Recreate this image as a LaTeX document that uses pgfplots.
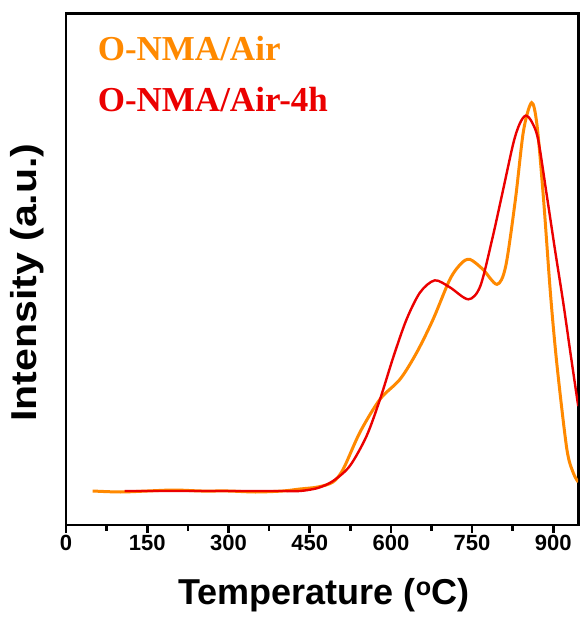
\documentclass[border=0pt]{standalone}
\usepackage{fontspec}
\setmainfont{Liberation Sans}
\newfontfamily\legfont{Liberation Serif}
\usepackage{graphicx}
\usepackage{pgfplots}
\pgfplotsset{compat=1.18}
\definecolor{cair}{RGB}{255,137,0}
\definecolor{cair4}{RGB}{235,0,0}
\begin{document}
\begin{tikzpicture}
\begin{axis}[
  scale only axis, width=512pt, height=511pt,
  xmin=0, xmax=946, ymin=0, ymax=512,
  xtick={0,150,...,900}, minor x tick num=1,
  ytick=\empty,
  tick align=outside, xtick pos=bottom,
  major tick length=8pt, minor tick length=6pt,
  every tick/.style={line width=2.5pt, black},
  axis line style={line width=2.8pt},
  tick label style={font=\fontsize{22}{24}\selectfont\bfseries},
  /pgf/number format/assume math mode=true,
  xticklabel style={yshift=1pt},
  label style={font=\fontsize{36}{38}\selectfont\bfseries},
  xlabel={Temperature (\textsuperscript{o}C)},
  ylabel={\scalebox{1.14}[1]{Intensity (a.u.)}},
  ylabel style={at={(axis description cs:-0.075,0.474)}, anchor=center},
  xlabel style={at={(axis description cs:0.504,-0.138)}, anchor=center},
  clip=true,
]
\addplot[cair, line width=3pt, smooth, tension=0.5] coordinates {
  (49,34) (100,33) (150,34) (200,35) (250,34) (300,34) (350,33) (400,34)
  (432,36) (465,38) (493,43) (512,56) (543,93) (580,126) (617,146)
  (648,173) (678,206) (709,246) (730,262) (746,266) (770,256) (796,241)
  (812,259) (830,326) (845,395) (860,423) (870,400) (882,326) (895,230)
  (907,159) (925,76) (937,52) (946,43)
};
\addplot[cair4, line width=2.4pt, smooth, tension=0.5] coordinates {
  (108,34) (150,34) (200,34) (250,34) (300,34) (350,34) (400,34)
  (432,34) (465,37) (493,44) (524,59) (555,89) (580,126) (605,169)
  (629,206) (654,233) (681,245) (709,238) (743,226) (765,239) (787,286)
  (805,330) (826,382) (838,402) (849,410) (860,404) (872,386) (888,330)
  (903,276) (918,224) (932,171) (946,119)
};
\node[anchor=west, text=cair] at (rel axis cs:0.055,0.933)
  {\legfont\bfseries\fontsize{35}{36}\selectfont O-NMA/Air};
\node[anchor=west, text=cair4] at (rel axis cs:0.055,0.832)
  {\legfont\bfseries\fontsize{35}{36}\selectfont O-NMA/Air-4h};
\coordinate (bbsw) at (rel axis cs:-0.129,-0.184);
\coordinate (bbne) at (rel axis cs:1,1.027);
\end{axis}
\path (bbsw) (bbne);
\end{tikzpicture}
\end{document}
